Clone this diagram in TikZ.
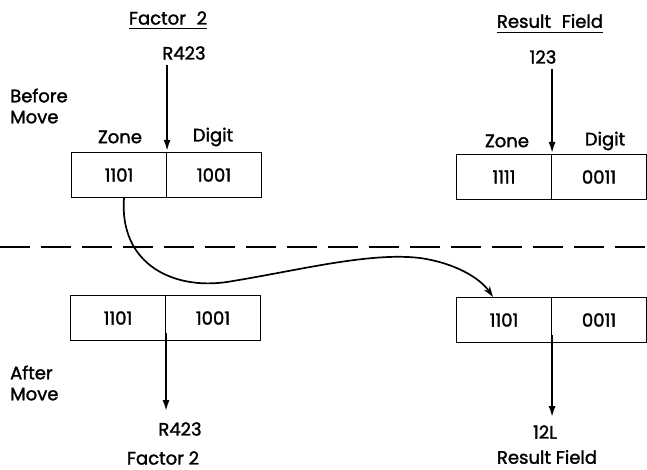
\documentclass[tikz,border=0pt]{standalone}
\usepackage{fontspec}
\setmainfont{Poppins}[FakeBold=1.6]
\usetikzlibrary{arrows.meta}
\begin{document}
\begin{tikzpicture}[x=1pt,y=-1pt,
  every node/.style={font=\fontsize{18}{20}\selectfont},
  cell/.style={draw,line width=1.1pt,minimum width=95pt,minimum height=45pt,inner sep=0pt},
  lbl/.style={inner sep=0pt},
  sidelbl/.style={inner sep=0pt,anchor=west,align=left},
  down/.style={line width=2.7pt,-{Latex[length=12pt,width=7pt]}},
  move/.style={line width=1.7pt,-{Stealth[length=11pt,width=7pt]}}]
\useasboundingbox (0,0) rectangle (647,470);
% before move
\node[lbl] (f2t) at (168,18) {Factor\,\, 2};
\draw[line width=1.1pt] ([yshift=-4pt]f2t.south west) -- ([yshift=-4pt]f2t.south east);
\node[lbl] (rft) at (550,21) {Result\,\, Field};
\draw[line width=1.1pt] ([yshift=-4pt]rft.south west) -- ([yshift=-4pt]rft.south east);
\node[lbl] (v1) at (184,53) {R423};
\node[lbl] (v2) at (543,57) {123};
\node[sidelbl] (bm) at (10,106) {Before\\[1pt]Move};
\node[lbl] (z1) at (120,137) {Zone};
\node[lbl] (d1) at (213,137) {Digit};
\node[lbl] (z2) at (507,141) {Zone};
\node[lbl] (d2) at (605,141) {Digit};
\node[cell] (a1) at (119,175) {1101};
\node[cell] (a2) at (214,175) {1001};
\node[cell] (b1) at (504,177) {1111};
\node[cell] (b2) at (599,177) {0011};
\draw[down] (v1.south -| a1.north east) ++(0,5) -- (a1.north east);
\draw[down] (v2.south -| b1.north east) ++(0,5) -- (b1.north east);
% separator
\coordinate (sl) at (0,247);
\coordinate (sr) at (647,247);
\draw[line width=1.4pt,dash pattern=on 30pt off 11pt] (sl) -- (sr);
% after move
\node[cell] (c1) at (118,318) {1101};
\node[cell] (c2) at (213,318) {1001};
\node[cell] (e1) at (504,320) {1101};
\node[cell] (e2) at (599,320) {0011};
\node[sidelbl] (am) at (10,383) {After\\[1pt]Move};
\node[lbl] (v3) at (180,429) {R423};
\node[lbl] (f2b) at (163,458) {Factor 2};
\node[lbl] (v4) at (545,432) {12L};
\node[lbl] (rfb) at (547,457) {Result Field};
\coordinate (t3) at (c1.south east |- 0,412);
\coordinate (t4) at (e1.south east |- 0,418);
\draw[down] ([yshift=8pt]c1.south east) -- (t3);
\draw[down] ([yshift=8pt]e1.south east) -- (t4);
% move curve
\coordinate (src) at ([xshift=5pt]a1.south);
\coordinate (dst) at ([xshift=-11pt]e1.north);
\draw[move] (src) .. controls (119,265) and (175,292) .. (233,281)
  .. controls (300,270) and (370,252) .. (420,258)
  .. controls (455,263) and (480,278) .. (dst);
\end{tikzpicture}
\end{document}
